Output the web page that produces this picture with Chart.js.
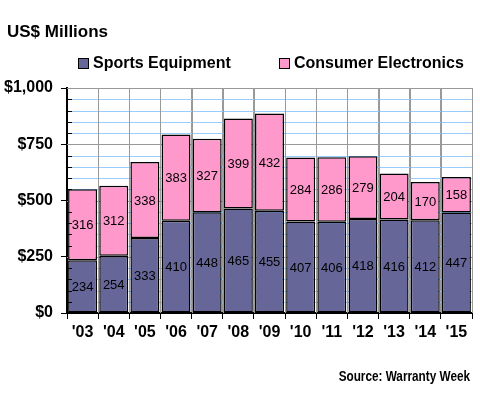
<!DOCTYPE html>
<html>
<head>
<meta charset="utf-8">
<script src="https://cdn.jsdelivr.net/npm/chart.js@4"></script>
<style>
  html, body { margin: 0; padding: 0; background: #fff; }
  canvas { display: block; }
</style>
</head>
<body>
<canvas id="warrantyChart" width="480" height="400"></canvas>
<script>
const years = ["'03", "'04", "'05", "'06", "'07", "'08", "'09", "'10", "'11", "'12", "'13", "'14", "'15"];
const sportsEquipment = [234, 254, 333, 410, 448, 465, 455, 407, 406, 418, 416, 412, 447];
const consumerElectronics = [316, 312, 338, 383, 327, 399, 432, 284, 286, 279, 204, 170, 158];
const seriesNames = ['Sports Equipment', 'Consumer Electronics'];
const seriesColors = ['#666699', '#ff99cc'];

const FONT = "'Liberation Sans', Arial, sans-serif";

// horizontal grid: light blue every 50, grey every 250
const hGrid = {
    id: 'hGrid',
    beforeDatasetsDraw(chart) {
        const ctx = chart.ctx;
        const y = chart.scales.y;
        const { left, right } = chart.chartArea;
        ctx.save();
        ctx.lineWidth = 1;
        y.ticks.forEach((t) => {
            if (t.value === 0) return;
            const py = Math.round(y.getPixelForValue(t.value)) + 0.5;
            ctx.strokeStyle = t.value % 250 === 0 ? '#999999' : '#99ccff';
            ctx.beginPath();
            ctx.moveTo(left, py);
            ctx.lineTo(right, py);
            ctx.stroke();
        });
        // keep the vertical category lines on top
        const x = chart.scales.x;
        ctx.strokeStyle = '#999999';
        for (let i = 1; i <= years.length; i++) {
            const px = Math.round(left + (right - left) * i / years.length) + 0.5;
            ctx.beginPath();
            ctx.moveTo(px, chart.chartArea.top);
            ctx.lineTo(px, chart.chartArea.bottom);
            ctx.stroke();
        }
        ctx.restore();
    }
};

// title, legend, source note and the little inside ticks on the y axis
const extrasPlugin = {
    id: 'extras',
    afterDraw(chart) {
        const ctx = chart.ctx;
        ctx.save();
        ctx.fillStyle = '#000';
        ctx.textBaseline = 'alphabetic';

        ctx.font = 'bold 17px ' + FONT;
        ctx.textAlign = 'left';
        ctx.fillText('US$ Millions', 7, 37);

        // legend
        ctx.font = 'bold 16px ' + FONT;
        const legendX = [78, 279];
        seriesNames.forEach((name, i) => {
            ctx.fillStyle = seriesColors[i];
            ctx.fillRect(legendX[i], 58, 10, 10);
            ctx.strokeStyle = '#000';
            ctx.lineWidth = 1;
            ctx.strokeRect(legendX[i] + 0.5, 58.5, 10, 10);
            ctx.fillStyle = '#000';
            ctx.fillText(name, legendX[i] + 15, 68);
        });

        // source (the original uses a narrow face, so squeeze it a little)
        ctx.font = 'bold 14px ' + FONT;
        ctx.textAlign = 'right';
        ctx.save();
        ctx.translate(470, 381);
        ctx.scale(0.84, 1);
        ctx.fillText('Source: Warranty Week', 0, 0);
        ctx.restore();

        // minor ticks inside the plot
        const y = chart.scales.y;
        const left = chart.chartArea.left;
        ctx.strokeStyle = '#000';
        ctx.lineWidth = 1;
        for (let v = 50; v < 1000; v += 50) {
            if (v % 250 === 0) continue;
            const py = Math.round(y.getPixelForValue(v)) + 0.5;
            ctx.beginPath();
            ctx.moveTo(left, py);
            ctx.lineTo(left + 5, py);
            ctx.stroke();
        }
        ctx.restore();
    }
};

// value labels in the middle of each segment
const segmentLabels = {
    id: 'segmentLabels',
    afterDatasetsDraw(chart) {
        const ctx = chart.ctx;
        ctx.save();
        ctx.font = '13px ' + FONT;
        ctx.fillStyle = '#000';
        ctx.textAlign = 'center';
        ctx.textBaseline = 'middle';
        chart.data.datasets.forEach((ds, di) => {
            chart.getDatasetMeta(di).data.forEach((bar, i) => {
                const p = bar.getProps(['x', 'y', 'base'], true);
                ctx.fillText(ds.data[i], p.x, (p.y + p.base) / 2 + 1);
            });
        });
        ctx.restore();
    }
};

new Chart(document.getElementById('warrantyChart'), {
    type: 'bar',
    data: {
        labels: years,
        datasets: [
            {
                label: seriesNames[0],
                data: sportsEquipment,
                backgroundColor: seriesColors[0],
                borderColor: '#000',
                borderWidth: 1.5,
                borderSkipped: false,
                barPercentage: 0.93,
                categoryPercentage: 1.0
            },
            {
                label: seriesNames[1],
                data: consumerElectronics,
                backgroundColor: seriesColors[1],
                borderColor: '#000',
                borderWidth: 1.5,
                borderSkipped: false,
                barPercentage: 0.93,
                categoryPercentage: 1.0
            }
        ]
    },
    options: {
        responsive: false,
        animation: false,
        layout: { padding: { top: 88, right: 8, left: 0, bottom: 0 } },
        plugins: {
            legend: { display: false },
            title: { display: false },
            tooltip: { enabled: false }
        },
        scales: {
            x: {
                stacked: true,
                afterFit: (scale) => { scale.height = 87; },
                grid: {
                    color: '#999999',
                    lineWidth: 1,
                    offset: true,
                    tickLength: 6,
                    tickColor: '#000'
                },
                border: { color: '#000', width: 2 },
                ticks: {
                    color: '#000',
                    font: { family: FONT, size: 16, weight: 'bold' },
                    padding: 4,
                    maxRotation: 0,
                    autoSkip: false
                }
            },
            y: {
                stacked: true,
                min: 0,
                max: 1000,
                afterFit: (scale) => { scale.width = 67; },
                grid: {
                    drawOnChartArea: false,
                    tickLength: 6,
                    tickColor: (c) => (c.tick && c.tick.value % 250 === 0) ? '#000' : 'rgba(0,0,0,0)'
                },
                border: { color: '#000', width: 2 },
                ticks: {
                    stepSize: 50,
                    maxTicksLimit: 30,
                    autoSkip: false,
                    color: '#000',
                    padding: 8,
                    font: { family: FONT, size: 16, weight: 'bold' },
                    callback: (v) => v % 250 === 0 ? '$' + v.toLocaleString('en-US') : ''
                }
            }
        }
    },
    plugins: [hGrid, segmentLabels, extrasPlugin]
});
</script>
</body>
</html>
